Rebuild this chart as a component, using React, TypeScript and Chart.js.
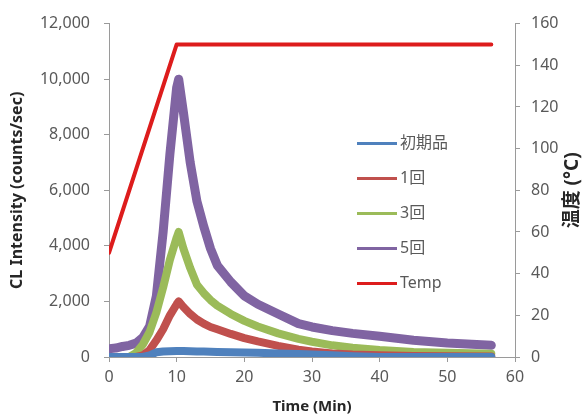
import React, { useEffect, useRef } from "react";
import { Chart, registerables } from "chart.js";

Chart.register(...registerables);

// Time (min)
const times = [0, 1, 2, 3, 4, 5, 6, 7, 8, 9, 10, 10.3, 11, 12, 13, 14, 15, 16, 18, 20, 22, 25, 28, 30, 33, 36, 40, 45, 50, 56.5];
// CL intensity (counts/sec)
const initial = [0, 0, 0, 0, 0, 0, 60, 170, 200, 210, 220, 220, 220, 210, 200, 200, 190, 180, 170, 160, 150, 130, 110, 90, 60, 30, 0, 0, 0, 0];
const once = [0, 0, 0, 0, 0, 60, 250, 600, 1000, 1500, 1900, 2000, 1800, 1550, 1350, 1200, 1080, 1000, 830, 680, 560, 400, 260, 200, 130, 90, 60, 40, 30, 20];
const thrice = [0, 0, 0, 0, 150, 450, 900, 1600, 2500, 3500, 4300, 4500, 3900, 3200, 2600, 2300, 2050, 1850, 1550, 1300, 1100, 850, 650, 550, 420, 330, 250, 180, 150, 120];
const five = [300, 320, 380, 420, 500, 700, 1100, 2200, 4500, 7300, 9700, 10000, 8800, 7000, 5600, 4700, 3900, 3300, 2700, 2200, 1900, 1550, 1200, 1080, 950, 850, 750, 600, 500, 420];
// Temperature profile (°C)
const tempTimes = [0, 10, 56.5];
const tempValues = [50, 150, 150];

const seriesLabels = ["初期品", "1回", "3回", "5回", "Temp"];
const seriesColors = ["#4F81BD", "#C0504D", "#9BBB59", "#8064A2", "#DD1C1C"];

const xTicksMax = 60;
const yLeftMax = 12000;
const yRightMax = 160;

const FONT = "'Noto Sans', 'Noto Sans CJK JP', sans-serif";
const TEXT = "#595959";
const AXIS = "#9a9a9a";

const toPts = (ys: number[]) => times.map((t, i) => ({ x: t, y: ys[i] }));

const overlayPlugin = {
  id: "overlay",
  afterDraw(chart: any) {
    const ctx = chart.ctx;
    const ca = chart.chartArea;
    ctx.save();
    // Legend inside plot area
    const lx0 = ca.left + 248;
    const lx1 = ca.left + 288;
    const y0 = ca.top + 120;
    const dy = 35;
    ctx.font = `16px ${FONT}`;
    ctx.textBaseline = "middle";
    ctx.textAlign = "left";
    seriesLabels.forEach((lab, i) => {
      const y = y0 + i * dy;
      ctx.strokeStyle = seriesColors[i];
      ctx.lineWidth = 3;
      ctx.beginPath();
      ctx.moveTo(lx0, y);
      ctx.lineTo(lx1, y);
      ctx.stroke();
      ctx.fillStyle = TEXT;
      ctx.fillText(lab, lx1 + 3, y);
    });
    // Right axis title, reading bottom-to-top
    ctx.translate(573, (ca.top + ca.bottom) / 2);
    ctx.rotate(-Math.PI / 2);
    ctx.font = `bold 19px ${FONT}`;
    ctx.fillStyle = "#262626";
    ctx.textAlign = "center";
    ctx.fillText("温度 (°C)", 0, 0);
    ctx.restore();
  },
};

export default function App() {
  const ref = useRef<HTMLCanvasElement>(null);
  useEffect(() => {
    if (!ref.current) return;
    const gridOpts = {
      display: true,
      drawOnChartArea: false,
      drawTicks: true,
      tickLength: 5,
      color: AXIS,
    };
    const chart = new Chart(ref.current, {
      type: "line",
      data: {
        datasets: [
          { label: seriesLabels[0], data: toPts(initial), borderColor: seriesColors[0], borderWidth: 8, yAxisID: "y", clip: 0 },
          { label: seriesLabels[1], data: toPts(once), borderColor: seriesColors[1], borderWidth: 8, yAxisID: "y", clip: 0 },
          { label: seriesLabels[2], data: toPts(thrice), borderColor: seriesColors[2], borderWidth: 8, yAxisID: "y", clip: 0 },
          { label: seriesLabels[3], data: toPts(five), borderColor: seriesColors[3], borderWidth: 9, yAxisID: "y", clip: 0 },
          {
            label: seriesLabels[4],
            data: tempTimes.map((t, i) => ({ x: t, y: tempValues[i] })),
            borderColor: seriesColors[4],
            borderWidth: 4,
            yAxisID: "y1",
          },
        ] as any,
      },
      options: {
        animation: false,
        responsive: false,
        maintainAspectRatio: false,
        elements: { point: { radius: 0 }, line: { tension: 0, borderJoinStyle: "round", borderCapStyle: "round" } },
        layout: { padding: { top: 21, left: 0, right: 0, bottom: 0 } },
        plugins: { legend: { display: false }, tooltip: { enabled: false } },
        scales: {
          x: {
            type: "linear",
            min: 0,
            max: xTicksMax,
            grid: gridOpts,
            border: { display: true, color: AXIS },
            ticks: { stepSize: 10, color: TEXT, font: { family: FONT, size: 16 }, padding: 6 },
            title: { display: true, text: "Time (Min)", color: "#262626", font: { family: FONT, size: 15, weight: "bold" }, padding: { top: 0, bottom: 0 } },
            afterFit: (s: any) => { s.height = 59; },
          },
          y: {
            position: "left",
            min: 0,
            max: yLeftMax,
            grid: gridOpts,
            border: { display: true, color: AXIS },
            ticks: {
              stepSize: 2000,
              color: TEXT,
              font: { family: FONT, size: 16 },
              padding: 14,
              callback: (v: any) => Number(v).toLocaleString("en-US"),
            },
            title: { display: true, text: "CL Intensity (counts/sec)", color: "#262626", font: { family: FONT, size: 16, weight: "bold" }, padding: { top: 8, bottom: 0 } },
            afterFit: (s: any) => { s.width = 109; },
          },
          y1: {
            position: "right",
            min: 0,
            max: yRightMax,
            grid: gridOpts,
            border: { display: true, color: AXIS },
            ticks: { stepSize: 20, color: TEXT, font: { family: FONT, size: 16 }, padding: 11 },
            afterFit: (s: any) => { s.width = 72; },
          },
        },
      } as any,
      plugins: [overlayPlugin],
    });
    return () => chart.destroy();
  }, []);
  return (
    <div style={{ position: "fixed", left: 0, top: 0, width: 587, height: 416, background: "#fff" }}>
      <canvas ref={ref} width={587} height={416} style={{ display: "block", width: 587, height: 416 }} />
    </div>
  );
}
